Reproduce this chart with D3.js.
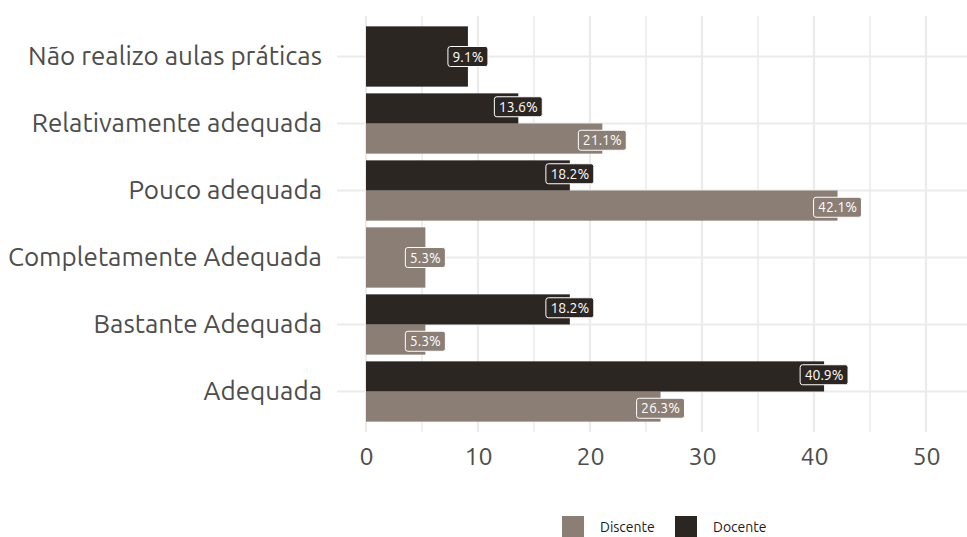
<!DOCTYPE html>
<html>
<head>
<meta charset="utf-8">
<script src="https://d3js.org/d3.v7.min.js"></script>
<style>
body { margin: 0; background: #fff; }
svg { font-family: Ubuntu, "Noto Sans", sans-serif; }
</style>
</head>
<body>
<svg width="967" height="537"></svg>
<script>
// categories, top to bottom as drawn
const categories = ["Não realizo aulas práticas", "Relativamente adequada", "Pouco adequada",
                    "Completamente Adequada", "Bastante Adequada", "Adequada"];
const docente  = [9.1, 13.6, 18.2, null, 18.2, 40.9];
const discente = [null, 21.1, 42.1, 5.3, 5.3, 26.3];
const seriesNames = ["Discente", "Docente"];
const seriesColors = ["#8b7e75", "#2b2622"];
const xTicks = [0, 10, 20, 30, 40, 50];
const xMinor = [5, 15, 25, 35, 45];

const svg = d3.select("svg");
const panel = {left: 337, right: 967, top: 16, bottom: 432};

const x = d3.scaleLinear().domain([0, 50]).range([366, 926]);
const y = d3.scaleBand().domain(categories).range([23, 425]).padding(0);
const bw = y.bandwidth();

// grid
const grid = svg.append("g");
grid.selectAll(".minor").data(xMinor).enter().append("line")
    .attr("x1", d => x(d)).attr("x2", d => x(d))
    .attr("y1", panel.top).attr("y2", panel.bottom)
    .attr("stroke", "#ebebeb").attr("stroke-width", 1.6);
grid.selectAll(".major").data(xTicks).enter().append("line")
    .attr("x1", d => x(d)).attr("x2", d => x(d))
    .attr("y1", panel.top).attr("y2", panel.bottom)
    .attr("stroke", "#ebebeb").attr("stroke-width", 2.2);
grid.selectAll(".hmajor").data(categories).enter().append("line")
    .attr("x1", panel.left).attr("x2", panel.right)
    .attr("y1", d => y(d) + bw / 2).attr("y2", d => y(d) + bw / 2)
    .attr("stroke", "#ebebeb").attr("stroke-width", 2.2);

// build bar records with dodge
const bars = [];
categories.forEach(function(c, i) {
  const vals = [discente[i], docente[i]];
  const present = vals.map((v, k) => v == null ? -1 : k).filter(k => k >= 0);
  const mid = y(c) + bw / 2;
  present.forEach(function(k) {
    let y0, h, ly;
    if (present.length == 1) {
      h = bw * 0.9; y0 = mid - h / 2; ly = mid;
    } else {
      h = bw * 0.45;
      // Docente on top, Discente below
      y0 = k == 1 ? mid - h : mid;
      ly = k == 1 ? mid - bw * 0.25 : mid + bw * 0.25;
    }
    bars.push({cat: c, s: k, v: vals[k], y0: y0, h: h, ly: ly});
  });
});

svg.append("g").selectAll("rect").data(bars).enter().append("rect")
    .attr("x", x(0))
    .attr("y", d => d.y0)
    .attr("width", d => x(d.v) - x(0))
    .attr("height", d => d.h)
    .attr("fill", d => seriesColors[d.s]);

// labels
const lab = svg.append("g").selectAll("g").data(bars).enter().append("g")
    .attr("transform", d => "translate(" + x(d.v) + "," + d.ly + ")");
lab.append("text")
    .attr("text-anchor", "middle")
    .attr("dy", "0.36em")
    .attr("fill", "#fff")
    .style("font-size", "14px")
    .text(d => d.v.toFixed(1) + "%");
lab.each(function() {
  const g = d3.select(this);
  const bb = g.select("text").node().getBBox();
  g.insert("rect", "text")
    .attr("x", bb.x - 4.5).attr("y", -10)
    .attr("width", bb.width + 9).attr("height", 20)
    .attr("rx", 2.5)
    .attr("fill", d => seriesColors[d.s])
    .attr("stroke", "#fff").attr("stroke-width", 1);
});

// axes
const xAxis = svg.append("g")
    .attr("transform", "translate(0," + panel.bottom + ")")
    .call(d3.axisBottom(x).tickValues(xTicks).tickSize(0).tickPadding(15));
xAxis.select(".domain").remove();
xAxis.selectAll("text").attr("fill", "#4d4d4d").style("font-size", "25px")
    .style("font-family", "Ubuntu, 'Noto Sans', sans-serif");

const yAxis = svg.append("g")
    .attr("transform", "translate(" + panel.left + ",0)")
    .call(d3.axisLeft(y).tickSize(0).tickPadding(15));
yAxis.select(".domain").remove();
yAxis.selectAll("text").attr("fill", "#4d4d4d").style("font-size", "26px")
    .style("font-family", "Ubuntu, 'Noto Sans', sans-serif");

// legend
const legX = [562, 675];
const leg = svg.append("g").selectAll("g").data(seriesNames).enter().append("g")
    .attr("transform", (d, i) => "translate(" + legX[i] + ",516)");
leg.append("rect").attr("width", 22).attr("height", 22)
    .attr("fill", (d, i) => seriesColors[i]);
leg.append("text").attr("x", 38).attr("y", 11).attr("dy", "0.36em")
    .attr("fill", "#1a1a1a").style("font-size", "14px")
    .text(d => d);
</script>
</body>
</html>
